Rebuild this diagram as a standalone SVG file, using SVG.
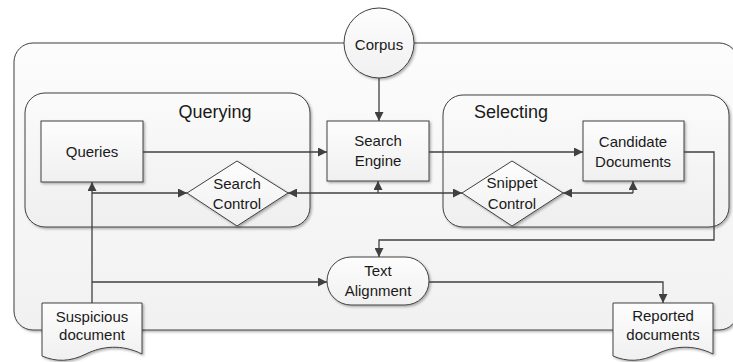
<svg xmlns="http://www.w3.org/2000/svg" width="733" height="362" viewBox="0 0 733 362">
<defs>
<linearGradient id="gBox" x1="0" y1="0" x2="0" y2="1">
<stop offset="0" stop-color="#fdfdfd"/><stop offset="1" stop-color="#f0f0f0"/>
</linearGradient>
<linearGradient id="gCont" x1="0" y1="0" x2="0" y2="1">
<stop offset="0" stop-color="#fbfbfb"/><stop offset="1" stop-color="#efefef"/>
</linearGradient>
<linearGradient id="gOuter" x1="0" y1="0" x2="0" y2="1">
<stop offset="0" stop-color="#fcfcfc"/><stop offset="1" stop-color="#f1f1f1"/>
</linearGradient>
<filter id="sh" x="-10%" y="-10%" width="130%" height="130%">
<feDropShadow dx="1.5" dy="1.5" stdDeviation="0.8" flood-color="#000" flood-opacity="0.3"/>
</filter>
<marker id="ah" viewBox="0 0 10 10" refX="10" refY="5" markerWidth="9" markerHeight="9" markerUnits="userSpaceOnUse" orient="auto-start-reverse">
<path d="M0,0 L10,5 L0,10 Z" fill="#404040"/>
</marker>
</defs>
<style>
.shape{stroke:#404040;stroke-width:1;fill:url(#gBox);filter:url(#sh)}
.cont{stroke:#404040;stroke-width:1;fill:url(#gCont);filter:url(#sh)}
.outer{stroke:#404040;stroke-width:1;fill:url(#gOuter);filter:url(#sh)}
.lbl{font-family:"Liberation Sans",Arial,sans-serif;font-size:15px;fill:#1a1a1a;text-anchor:middle}
.ttl{font-family:"Liberation Sans",Arial,sans-serif;font-size:18px;fill:#1a1a1a;text-anchor:middle}
.con{fill:none;stroke:#404040;stroke-width:1.3}
.arr{marker-end:url(#ah)}
.both{marker-start:url(#ah);marker-end:url(#ah)}
</style>

<g id="outer-container">
<rect class="outer" x="14" y="43" width="724" height="287" rx="19"/>
</g>
<g id="querying">
<rect class="cont" x="25" y="93" width="285" height="134" rx="20"/>
<text class="ttl" x="215" y="118">Querying</text>
</g>
<g id="selecting">
<rect class="cont" x="443" y="95" width="286" height="132" rx="20"/>
<text class="ttl" x="511" y="118">Selecting</text>
</g>
<g id="corpus">
<circle class="shape" cx="379" cy="43" r="35"/>
<text class="lbl" x="379" y="50">Corpus</text>
</g>
<g id="queries">
<rect class="shape" x="41" y="121" width="102" height="61"/>
<text class="lbl" x="92" y="157">Queries</text>
</g>
<g id="search-engine">
<rect class="shape" x="327" y="121" width="102" height="60"/>
<text class="lbl" x="378" y="146">Search</text>
<text class="lbl" x="378" y="166">Engine</text>
</g>
<g id="candidate-documents">
<rect class="shape" x="583" y="121" width="101" height="60"/>
<text class="lbl" x="633" y="147">Candidate</text>
<text class="lbl" x="633" y="167">Documents</text>
</g>
<g id="search-control">
<polygon class="shape" points="237,161 288,193 237,226 187,193"/>
<text class="lbl" x="237" y="189">Search</text>
<text class="lbl" x="237" y="209">Control</text>
</g>
<g id="snippet-control">
<polygon class="shape" points="512,161 563,193 512,226 462,193"/>
<text class="lbl" x="512" y="188">Snippet</text>
<text class="lbl" x="512" y="209">Control</text>
</g>
<g id="text-alignment">
<rect class="shape" x="327" y="257" width="102" height="48" rx="24"/>
<text class="lbl" x="378" y="276">Text</text>
<text class="lbl" x="378" y="296">Alignment</text>
</g>
<g id="suspicious-document">
<path class="shape" d="M42,303 H142 V354 C122,344 102,346 86,354 C70,362 56,362 42,356 Z"/>
<text class="lbl" x="92" y="322">Suspicious</text>
<text class="lbl" x="92" y="340">document</text>
</g>
<g id="reported-documents">
<path class="shape" d="M613,303 H713 V354 C693,344 673,346 657,354 C641,362 627,362 613,356 Z"/>
<text class="lbl" x="663" y="321">Reported</text>
<text class="lbl" x="663" y="340">documents</text>
</g>

<g id="connectors">
<path class="con arr" d="M143,152 H327"/>
<path class="con arr" d="M429,152 H583"/>
<path class="con arr" d="M379,78 V121"/>
<path class="con arr" d="M92,303 V182"/>
<path class="con arr" d="M92,193 H187"/>
<path class="con arr" d="M92,282 H327"/>
<path class="con both" d="M288,193 H462"/>
<path class="con arr" d="M378,193 V181"/>
<path class="con arr" d="M633,193 V181"/>
<path class="con" d="M563,193 H633" style="marker-start:url(#ah)"/>
<path class="con arr" d="M684,152 H714 V240 H379 V257"/>
<path class="con arr" d="M429,282 H663 V303"/>
</g>
</svg>
